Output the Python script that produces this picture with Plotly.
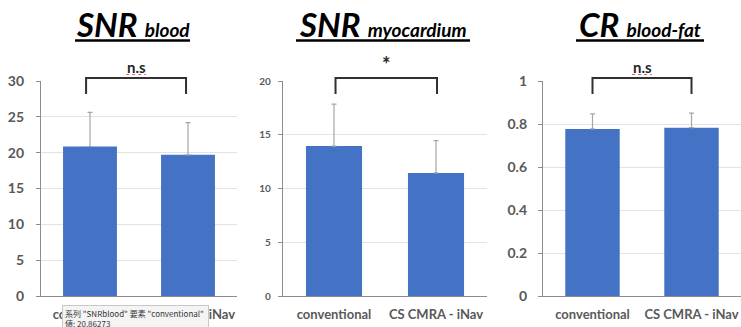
import plotly.graph_objects as go

categories = ["conventional", "CS CMRA - iNav"]

snr_blood_mean = [20.86, 19.7]
snr_blood_sd = [4.75, 4.5]

snr_myo_mean = [13.95, 11.45]
snr_myo_sd = [3.9, 3.0]

cr_mean = [0.777, 0.783]
cr_sd = [0.07, 0.068]

titles = [("SNR", "blood"), ("SNR", "myocardium"), ("CR", "blood-fat")]
sig_labels = ["n.s", "*", "n.s"]
y_ranges = [[0, 30], [0, 20], [0, 1]]
y_dticks = [5, 5, 0.2]
tick_sizes = [14, 10, 14]
tick_standoff = [9, 5, 8]

BAR = "#4472C4"
GRAY = "#595959"
FONT = "Lato"

W, H = 741, 327
def px(x):
    return x / W
def py(y):
    return (H - y) / H

x_domains = [[px(41), px(237)], [px(283), px(487)], [px(543), 1.0]]
y_domain = [py(296), py(81)]

means = [snr_blood_mean, snr_myo_mean, cr_mean]
sds = [snr_blood_sd, snr_myo_sd, cr_sd]

fig = go.Figure()
layout = dict(
    template="none",
    width=W, height=H, margin=dict(l=0, r=0, t=0, b=0, pad=0, autoexpand=False),
    plot_bgcolor="white", paper_bgcolor="white", showlegend=False,
    font=dict(family=FONT, color=GRAY),
)
shapes = []
annotations = []
for i in range(3):
    xa = "x" if i == 0 else f"x{i+1}"
    ya = "y" if i == 0 else f"y{i+1}"
    fig.add_trace(go.Bar(
        x=categories, y=means[i], width=0.55,
        marker=dict(color=BAR, line=dict(width=0)),
        error_y=dict(type="data", array=sds[i], arrayminus=[0, 0], symmetric=False,
                     color="#A6A6A6", thickness=1.2, width=2.5),
        xaxis=xa, yaxis=ya, hoverinfo="skip",
    ))
    key_x = "xaxis" if i == 0 else f"xaxis{i+1}"
    key_y = "yaxis" if i == 0 else f"yaxis{i+1}"
    layout[key_x] = dict(
        domain=x_domains[i], anchor=ya, showgrid=False, showline=True,
        linecolor="#8C8C8C", linewidth=1.3, ticks="", automargin=False,
        ticklabelstandoff=6,
        tickfont=dict(family=FONT, size=13, color=GRAY, weight="bold"),
        range=[-0.5, 1.5], fixedrange=True, zeroline=False,
    )
    layout[key_y] = dict(
        domain=y_domain, anchor=xa, range=y_ranges[i], dtick=y_dticks[i],
        showgrid=True, gridcolor="#E3E3E3", gridwidth=1, showline=True,
        linecolor="#8C8C8C", linewidth=1.3, ticks="outside", ticklen=4,
        tickcolor="#8C8C8C", zeroline=False, automargin=False,
        ticklabelstandoff=tick_standoff[i], fixedrange=True,
        tickfont=dict(family=FONT, size=tick_sizes[i], color=GRAY, weight="bold"),
    )

# titles with thick underline
title_cx = [133, 383, 640]
underline_x = [(75, 190), (296, 470), (576, 704)]
for i, (main, sub) in enumerate(titles):
    annotations.append(dict(
        xref="paper", yref="paper", x=px(title_cx[i]), y=py(24),
        xanchor="center", yanchor="middle", showarrow=False,
        text=f"<b><i>{main} <span style='font-size:19px'>{sub}</span></i></b>",
        font=dict(family=FONT, size=33, color="black"),
    ))
    shapes.append(dict(
        type="line", xref="paper", yref="paper",
        x0=px(underline_x[i][0]), x1=px(underline_x[i][1]), y0=py(40.5), y1=py(40.5),
        line=dict(color="black", width=2.6),
    ))

# significance brackets
bracket_x = [(-0.04, 0.98), (0.015, 1.01), (0.0, 1.0)]
sig_y = [67, 64, 67]
sig_size = [15, 20, 15]
for i in range(3):
    xa = "x" if i == 0 else f"x{i+1}"
    x0, x1 = bracket_x[i]
    shapes.append(dict(
        type="path", xref=xa, yref="paper",
        path=f"M {x0},{py(94)} L {x0},{py(78)} L {x1},{py(78)} L {x1},{py(94)}",
        line=dict(color="#303030", width=2),
    ))
    annotations.append(dict(
        xref=xa, yref="paper", x=(x0 + x1) / 2, y=py(sig_y[i]),
        xanchor="center", yanchor="middle", showarrow=False,
        text=f"<b>{sig_labels[i]}</b>",
        font=dict(family=FONT, size=sig_size[i], color="#262626"),
    ))
    if sig_labels[i] == "n.s":
        shapes.append(dict(
            type="line", xref=xa, yref="paper",
            x0=(x0 + x1) / 2 - 0.1, x1=(x0 + x1) / 2 + 0.1, y0=py(74.5), y1=py(74.5),
            line=dict(color="#E06060", width=1, dash="dot"),
        ))

# tooltip overlay (annotation with background so it covers the tick labels)
annotations.append(dict(
    xref="paper", yref="paper", x=px(62), y=py(305),
    xanchor="left", yanchor="top", showarrow=False, align="left",
    text='系列 "SNRblood" 要素 "conventional"&nbsp;<br>値: 20.86273',
    font=dict(family="Noto Sans CJK JP", size=8, color="#333333"),
    bgcolor="#F4F4F4", bordercolor="#C8C8C8", borderwidth=1, borderpad=2,
))

layout["shapes"] = shapes
layout["annotations"] = annotations
fig.update_layout(**layout)
fig.write_html("out.html", config={"displayModeBar": False},
               post_script="document.body.style.margin='0';")
